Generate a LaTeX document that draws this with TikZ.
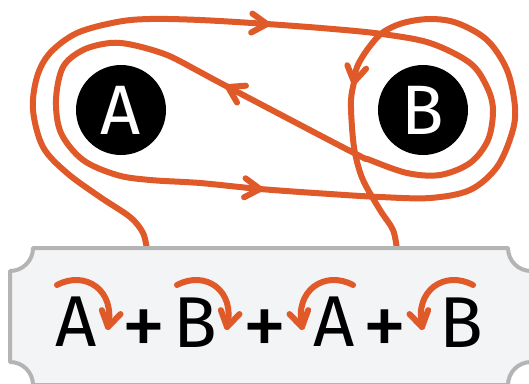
\documentclass[tikz,border=0pt]{standalone}
\usepackage{fontspec}
\setmainfont{Fira Sans}
\usetikzlibrary{arrows.meta}
\definecolor{org}{HTML}{DF5A28}
\definecolor{boxfill}{HTML}{F3F4F6}
\definecolor{boxline}{HTML}{B4B4B4}
\tikzset{
  route/.style={draw=org,line width=6pt,line cap=round,line join=round},
  chev/.style={draw=org,line width=6pt,line cap=round,line join=round},
  chv/.pic={\draw[chev] (148:18) -- (0,0) -- (212:18);},
  dot/.style={circle,fill=black,minimum size=90pt,inner sep=0pt,text=white,font=\fontsize{70}{70}\selectfont},
  letter/.style={inner sep=0pt,text=black,font=\fontsize{72}{72}\selectfont},
  plus/.style={inner sep=0pt,text=black,font=\fontsize{90}{90}\selectfont},
  panel/.style={draw=boxline,fill=boxfill,line width=4pt,line join=round}
}
\begin{document}
\begin{tikzpicture}[x=1pt,y=1pt,yscale=-1]
\useasboundingbox (0,0) rectangle (529,383);
\clip (0,0) rectangle (529,383);
\fill[white] (0,0) rectangle (529,383);
% circles
\node[dot] (A) at (121,110) {A};
\node[dot] (B) at (423,110) {B};
% main route
\coordinate (src) at (147,250);
\coordinate (dst) at (397,250);
\draw[route] plot[smooth,tension=0.55] coordinates {(src) (143,233) (130,217) (100,197) (67,173) (43,147) (33,110) (37,77) (50,53) (77,33) (117,22) (150,19) (200,20) (267,24) (333,29) (382,34) (430,43) (470,63) (487,87) (493,110) (488,140) (470,163) (440,175) (407,173) (370,160) (352,152) (228,87) (200,72) (167,55) (133,45) (110,43) (83,50) (63,67) (56,100) (61,133) (83,160) (117,175) (150,180) (200,183) (260,189) (330,194) (380,197) (430,198) (470,190) (497,167) (512,133) (515,107) (507,70) (487,40) (457,23) (430,19) (403,23) (382,33) (367,50) (357,67) (354,82) (351,100) (352,127) (355,153) (363,180) (380,210) (393,230) (dst)};
\coordinate (t1) at (267,24);
\coordinate (t2) at (228,87);
\coordinate (t3) at (260,189);
\coordinate (t4) at (354,82);
\pic[rotate=-3.6] at (t1) {chv};
\pic[rotate=-207.8] at (t2) {chv};
\pic[rotate=-4.5] at (t3) {chv};
\pic[rotate=-100.3] at (t4) {chv};
% panel
\path[panel] (33,248) -- (508,248) arc[start angle=180,end angle=90,radius=23pt]
  -- (531,362) arc[start angle=270,end angle=180,radius=23pt]
  -- (33,385) arc[start angle=0,end angle=-90,radius=23pt]
  -- (10,271) arc[start angle=90,end angle=0,radius=23pt] -- cycle;
% formula
\node[letter] (fa1) at (76,322) {A};
\node[plus] (p1) at (144,333) {+};
\node[letter] (fb1) at (195,323) {B};
\node[plus] (p2) at (265,333) {+};
\node[letter] (fa2) at (334,322) {A};
\node[plus] (p3) at (385,333) {+};
\node[letter] (fb2) at (461,323) {B};
% formula arcs
\coordinate (s1) at (57,285);  \coordinate (e1) at (108,327);
\coordinate (s2) at (177,285); \coordinate (e2) at (227,327);
\coordinate (s3) at (353,285); \coordinate (e3) at (302,327);
\coordinate (s4) at (473,285); \coordinate (e4) at (422,327);
\draw[route] (s1) .. controls (85,270) and (116,290) .. (e1);
\draw[route] (s2) .. controls (205,270) and (236,290) .. (e2);
\draw[route] (s3) .. controls (325,270) and (294,290) .. (e3);
\draw[route] (s4) .. controls (445,270) and (414,290) .. (e4);
\pic[rotate=-102] at (e1) {chv};
\pic[rotate=-102] at (e2) {chv};
\pic[rotate=-78] at (e3) {chv};
\pic[rotate=-78] at (e4) {chv};
\end{tikzpicture}
\end{document}
